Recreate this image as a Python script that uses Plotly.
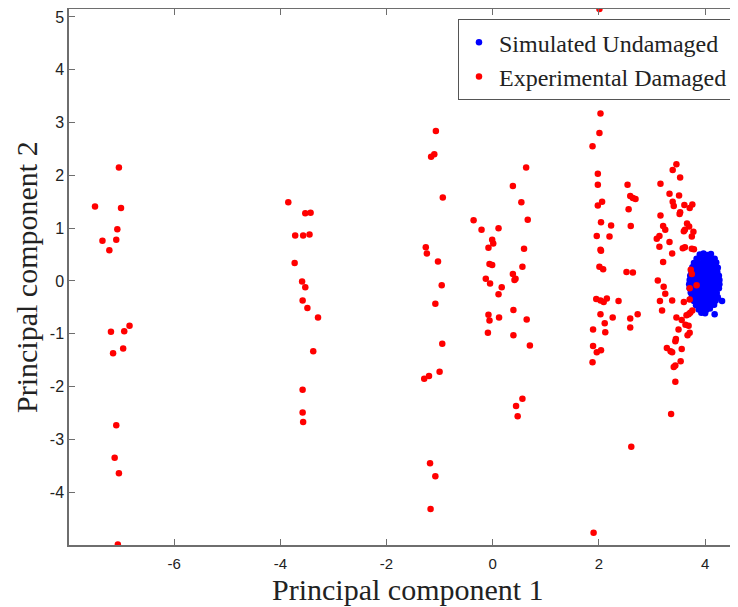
import plotly.graph_objects as go

# Experimental damaged (red) points
red_x = [
    -7.04, -7.49, -7.00, -7.07, -7.35, -7.09, -7.22, -7.19, -6.94, -6.84, -7.15, -6.96, -7.09, -7.12, -7.04, -7.06,
    -3.85, -3.53, -3.43, -3.72, -3.57, -3.45, -3.73, -3.59, -3.53, -3.58, -3.49, -3.29, -3.38, -3.58, -3.58, -3.57,
    -1.07, -1.16, -1.10, -0.94, -1.26, -1.24, -1.03, -0.96, -1.08, -0.95, -1.00, -1.29, -1.20, -1.18, -1.08, -1.17,
    -0.36, -0.21, 0.11, 0.38, 0.63, 0.54, 0.66, -0.08, -0.01, 0.01, 0.59, -0.06, -0.01, 0.56, -0.13, -0.05,
    0.11, 0.38, 0.43, 0.41, 0.17, -0.08, -0.06, 0.12, 0.39, 0.64, -0.09, 0.39, 0.70, 0.56, 0.44, 0.47,
    2.01, 2.64, 2.03, 2.01, 1.88, 1.98, 1.98, 2.54, 2.06, 1.98, 2.59, 2.64, 2.69, 2.56, 2.04, 2.23,
    2.60, 1.96, 2.20, 2.03, 2.04, 2.01, 2.08, 2.52, 2.64, 1.95, 2.03, 2.09, 2.15, 2.37, 2.03, 2.26,
    2.59, 2.73, 2.11, 1.89, 2.12, 2.59, 1.89, 1.96, 2.04, 1.88, 2.61, 1.90,
    3.46, 3.39, 3.53, 3.16, 3.33, 3.51, 3.39, 3.41, 3.61, 3.76, 3.71, 3.53, 3.52, 3.16, 3.66, 3.70,
    3.21, 3.25, 3.62, 3.60, 3.78, 3.75, 3.14, 3.09, 3.33, 3.14, 3.58, 3.62, 3.38, 3.75, 3.79, 3.21,
    3.73, 3.75, 3.84, 3.71, 3.11, 3.22, 3.25, 3.71, 3.15, 3.38, 3.60, 3.19, 3.76, 3.72, 3.69, 3.65,
    3.46, 3.56, 3.63, 3.50, 3.69, 3.71, 3.67, 3.45, 3.44, 3.56, 3.28, 3.35, 3.38, 3.54, 3.44, 3.41,
    3.44, 3.36,
]
red_y = [
    2.15, 1.41, 1.38, 0.98, 0.76, 0.78, 0.58, -0.96, -0.95, -0.85, -1.37, -1.28, -2.73, -3.35, -3.64, -4.99,
    1.49, 1.28, 1.29, 0.86, 0.86, 0.88, 0.34, -0.01, -0.12, -0.37, -0.51, -0.69, -1.33, -2.06, -2.49, -2.67,
    2.84, 2.35, 2.40, 1.58, 0.64, 0.52, 0.37, -0.08, -0.43, -1.19, -1.72, -1.85, -1.80, -3.45, -3.70, -4.32,
    1.15, 0.97, 1.00, 1.80, 2.15, 1.49, 1.16, 0.63, 0.78, 0.71, 0.61, 0.32, 0.30, 0.27, 0.04, -0.05,
    -0.25, 0.13, 0.04, 0.02, -0.12, -0.64, -0.75, -0.69, -0.55, -0.73, -0.98, -1.03, -1.22, -2.23, -2.37, -2.56,
    5.15, 3.65, 3.17, 2.80, 2.55, 2.03, 1.82, 1.82, 1.50, 1.43, 1.61, 1.57, 1.55, 1.36, 1.11, 1.05,
    1.04, 0.85, 0.84, 0.59, 0.57, 0.27, 0.22, 0.17, 0.16, -0.34, -0.37, -0.40, -0.33, -0.38, -0.63, -0.69,
    -0.71, -0.63, -0.80, -0.92, -0.97, -0.88, -1.23, -1.35, -1.31, -1.54, -3.14, -4.77,
    2.21, 2.10, 1.96, 1.84, 1.65, 1.62, 1.50, 1.42, 1.44, 1.45, 1.38, 1.30, 1.27, 1.24, 1.09, 1.03,
    1.04, 0.97, 0.97, 0.94, 0.93, 0.84, 0.85, 0.80, 0.74, 0.65, 0.62, 0.64, 0.52, 0.61, 0.60, 0.36,
    0.21, 0.13, -0.08, -0.14, 0.01, -0.11, -0.24, -0.35, -0.38, -0.37, -0.40, -0.56, -0.56, -0.60, -0.63, -0.65,
    -0.69, -0.74, -0.83, -0.92, -0.85, -0.98, -1.03, -1.10, -1.14, -1.29, -1.27, -1.33, -1.35, -1.52, -1.60, -1.63,
    -1.91, -2.52,
]

# Simulated undamaged (blue) points
blue_x = [
    3.90, 3.97, 4.04, 4.11,
    3.84, 3.91, 3.98, 4.05, 4.12, 4.18,
    3.79, 3.86, 3.93, 4.00, 4.07, 4.14, 4.21,
    3.76, 3.83, 3.90, 3.97, 4.04, 4.11, 4.18, 4.24,
    3.74, 3.81, 3.88, 3.95, 4.02, 4.09, 4.16, 4.23,
    3.72, 3.79, 3.86, 3.93, 4.00, 4.07, 4.14, 4.21, 4.26,
    3.71, 3.78, 3.85, 3.92, 3.99, 4.06, 4.13, 4.20, 4.27,
    3.70, 3.77, 3.84, 3.91, 3.98, 4.05, 4.12, 4.19, 4.27,
    3.71, 3.78, 3.85, 3.92, 3.99, 4.06, 4.13, 4.20, 4.26,
    3.73, 3.80, 3.87, 3.94, 4.01, 4.08, 4.15, 4.22,
    3.75, 3.82, 3.89, 3.96, 4.03, 4.10, 4.17, 4.24,
    3.79, 3.86, 3.93, 4.00, 4.07, 4.14, 4.20, 4.32,
    3.83, 3.90, 3.97, 4.04, 4.11, 4.17,
    3.88, 3.95, 4.02, 4.09,
    3.93, 4.00, 4.18,
]
blue_y = [
    0.50, 0.52, 0.49, 0.51,
    0.42, 0.44, 0.41, 0.43, 0.40, 0.42,
    0.34, 0.35, 0.33, 0.36, 0.34, 0.32, 0.35,
    0.26, 0.27, 0.25, 0.28, 0.26, 0.24, 0.27, 0.25,
    0.18, 0.19, 0.17, 0.20, 0.18, 0.16, 0.19, 0.17,
    0.10, 0.11, 0.09, 0.12, 0.10, 0.08, 0.11, 0.09, 0.10,
    0.02, 0.03, 0.01, 0.04, 0.02, 0.00, 0.03, 0.01, 0.02,
    -0.06, -0.05, -0.07, -0.04, -0.06, -0.08, -0.05, -0.07, -0.06,
    -0.14, -0.13, -0.15, -0.12, -0.14, -0.16, -0.13, -0.15, -0.14,
    -0.22, -0.21, -0.23, -0.20, -0.22, -0.24, -0.21, -0.23,
    -0.30, -0.29, -0.31, -0.28, -0.30, -0.32, -0.29, -0.31,
    -0.38, -0.37, -0.39, -0.36, -0.38, -0.40, -0.37, -0.38,
    -0.46, -0.45, -0.47, -0.44, -0.46, -0.45,
    -0.54, -0.53, -0.55, -0.52,
    -0.60, -0.61, -0.63,
]

x_ticks = [-6, -4, -2, 0, 2, 4]
y_ticks = [-4, -3, -2, -1, 0, 1, 2, 3, 4, 5]
x_title = "Principal component 1"
y_title = "Principal component 2"

axis_color = "#6e6e6e"
serif = "Liberation Serif, Times New Roman, serif"
sans = "Liberation Sans, Arial, sans-serif"

fig = go.Figure()
fig.add_trace(go.Scatter(
    x=blue_x, y=blue_y, mode="markers", name="Simulated Undamaged",
    marker=dict(color="#0000ff", size=6.5, line=dict(width=0)),
))
fig.add_trace(go.Scatter(
    x=red_x, y=red_y, mode="markers", name="Experimental Damaged",
    marker=dict(color="#ff0000", size=6.5, line=dict(width=0)),
))

# the page body adds an 8px offset, so the figure is 8px smaller
fig.update_layout(
    width=730, height=599,
    margin=dict(l=61, r=0, t=1, b=62, autoexpand=False),
    paper_bgcolor="white", plot_bgcolor="white",
    showlegend=True,
    legend=dict(
        x=0.9925, xanchor="right", y=0.981, yanchor="top",
        bgcolor="white", bordercolor="#555555", borderwidth=1,
        font=dict(family=serif, size=24, color="#222222"),
        tracegroupgap=0, itemsizing="trace",
    ),
    xaxis=dict(
        range=[-7.98, 4.62], tickvals=x_ticks, ticktext=[str(v) for v in x_ticks],
        showgrid=False, zeroline=False, automargin=False,
        showline=True, linecolor=axis_color, linewidth=1.5, mirror="ticks",
        ticks="inside", ticklen=6, tickcolor=axis_color, tickwidth=1,
        ticklabelstandoff=4,
        tickfont=dict(family=sans, size=15, color="#222222"),
    ),
    yaxis=dict(
        range=[-5.0, 5.15], tickvals=y_ticks, ticktext=[str(v) for v in y_ticks],
        showgrid=False, zeroline=False, automargin=False,
        showline=True, linecolor=axis_color, linewidth=1.5, mirror=False,
        ticks="inside", ticklen=6, tickcolor=axis_color, tickwidth=1,
        tickfont=dict(family=sans, size=16, color="#222222"),
    ),
    annotations=[
        dict(text=x_title, xref="paper", yref="paper", x=0.506, y=-0.0835,
             xanchor="center", yanchor="middle", showarrow=False,
             font=dict(family=serif, size=30, color="#222222")),
        dict(text=y_title, xref="paper", yref="paper", x=-0.0643, y=0.5,
             xanchor="center", yanchor="middle", showarrow=False, textangle=-90,
             font=dict(family=serif, size=30, color="#222222")),
    ],
)

fig.write_html("out.html")
